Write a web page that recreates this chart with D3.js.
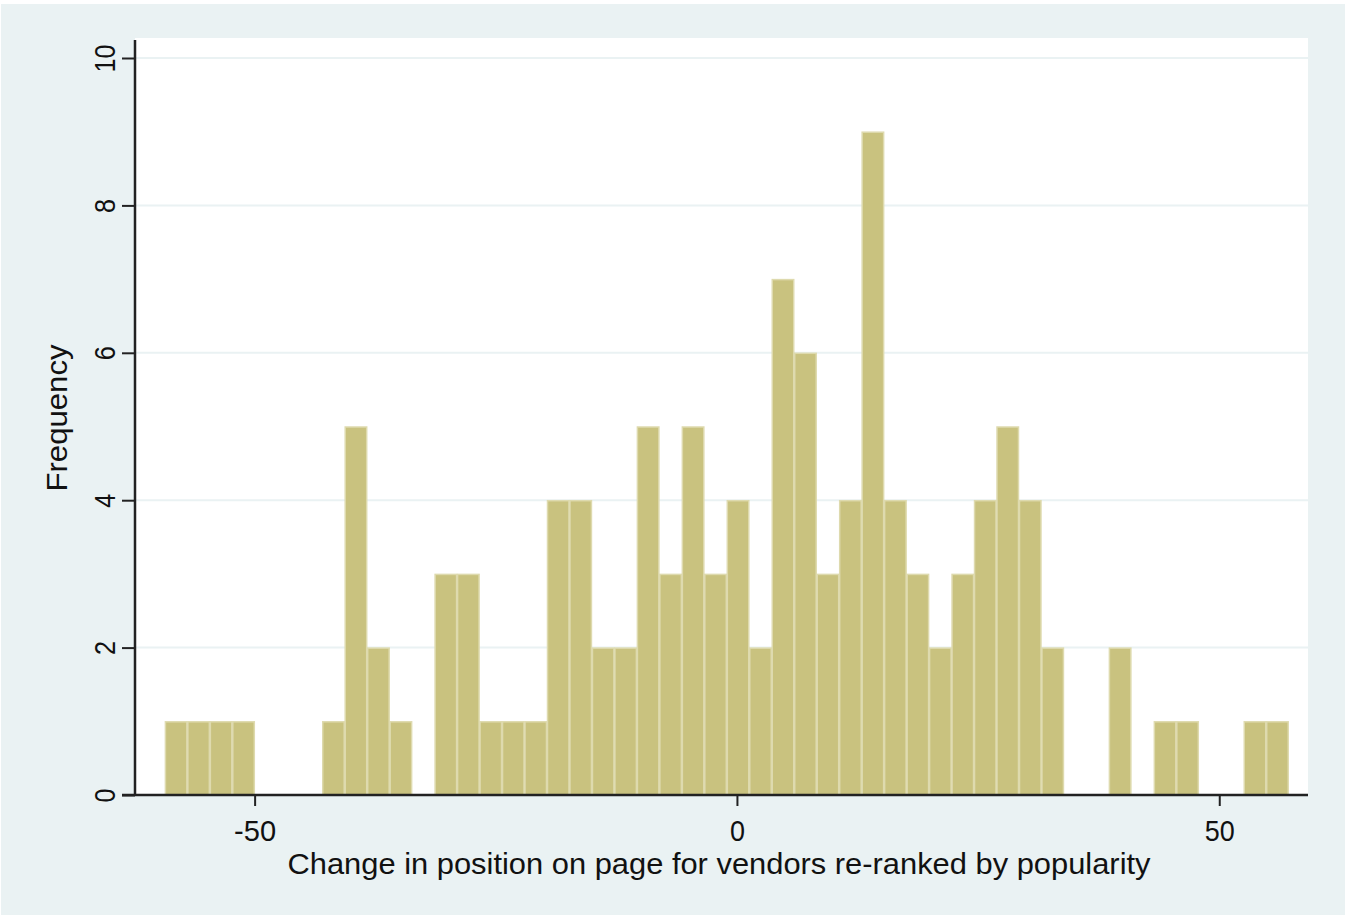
<!DOCTYPE html>
<html lang="en">
<head>
<meta charset="utf-8">
<title>Histogram - change in position</title>
<style>
  body { margin: 0; background: #fff; }
  .tick text, .lbl { font-family: "Liberation Sans", Arial, sans-serif; fill: #111; }
</style>
</head>
<body>
<div id="chart"></div>
<script src="https://d3js.org/d3.v7.min.js"></script>
<script>
  // histogram data: 50 bins starting at binStart, each binWidth wide
  var binStart = -59.3;
  var binWidth = 2.33;
  var counts = [1, 1, 1, 1, 0, 0, 0, 1, 5, 2,
                1, 0, 3, 3, 1, 1, 1, 4, 4, 2,
                2, 5, 3, 5, 3, 4, 2, 7, 6, 3,
                4, 9, 4, 3, 2, 3, 4, 5, 4, 2,
                0, 0, 2, 0, 1, 1, 0, 0, 1, 1];
  var xTicks = [-50, 0, 50];
  var yTicks = [0, 2, 4, 6, 8, 10];
  var xTitle = "Change in position on page for vendors re-ranked by popularity";
  var yTitle = "Frequency";

  var W = 1345, H = 917;
  var svg = d3.select("#chart").append("svg")
    .attr("width", W).attr("height", H);

  // outer background (stata style)
  svg.append("rect").attr("x", 1).attr("y", 4).attr("width", W - 1).attr("height", H - 6)
    .attr("fill", "#eaf2f3");

  var x = d3.scaleLinear().domain([-62.4, 59.2]).range([135, 1308]);
  var y = d3.scaleLinear().domain([0, 10]).range([795, 58]);

  // plot region
  svg.append("rect").attr("x", 135).attr("y", 38).attr("width", 1308 - 135).attr("height", 795 - 38)
    .attr("fill", "#fff");

  // grid lines
  svg.append("g").selectAll("line")
    .data(yTicks.filter(function(d) { return d > 0; }))
    .enter().append("line")
    .attr("x1", 135).attr("x2", 1308)
    .attr("y1", function(d) { return y(d); })
    .attr("y2", function(d) { return y(d); })
    .attr("stroke", "#eaf2f3").attr("stroke-width", 2);

  var bins = counts.map(function(c, i) {
    return { x0: binStart + i * binWidth, x1: binStart + (i + 1) * binWidth, n: c };
  });

  svg.append("g").selectAll("rect")
    .data(bins.filter(function(d) { return d.n > 0; }))
    .enter().append("rect")
    .attr("x", function(d) { return x(d.x0) + 0.5; })
    .attr("y", function(d) { return y(d.n) + 0.5; })
    .attr("width", function(d) { return x(d.x1) - x(d.x0) - 1; })
    .attr("height", function(d) { return y(0) - y(d.n) - 0.5; })
    .attr("fill", "#c9c27f")
    .attr("stroke", "#dedaae")
    .attr("stroke-width", 1.5);

  // y axis
  var yAxis = svg.append("g")
    .attr("transform", "translate(135,0)")
    .call(d3.axisLeft(y).tickValues(yTicks).tickSize(13).tickPadding(14).tickFormat(function(d) { return String(d); }));
  yAxis.select(".domain").attr("d", "M0,40V795").attr("stroke", "#222").attr("stroke-width", 2.5);
  yAxis.selectAll(".tick line").attr("stroke", "#222").attr("stroke-width", 2);
  yAxis.selectAll(".tick text")
    .attr("font-size", 30)
    .attr("x", 0).attr("dy", null)
    .attr("text-anchor", "middle")
    .attr("transform", "translate(-31,0) rotate(-90) translate(0,11)")
    .attr("textLength", function(d) { return d >= 10 ? 28 : 14; })
    .attr("lengthAdjust", "spacingAndGlyphs");

  // x axis
  var xAxis = svg.append("g")
    .attr("transform", "translate(0,795)")
    .call(d3.axisBottom(x).tickValues(xTicks).tickSize(11).tickPadding(0).tickFormat(function(d) { return String(d); }));
  xAxis.select(".domain").attr("d", "M122,0H1308").attr("stroke", "#222").attr("stroke-width", 2.5);
  xAxis.selectAll(".tick line").attr("stroke", "#222").attr("stroke-width", 2);
  xAxis.selectAll(".tick text")
    .attr("font-size", 30)
    .attr("y", 46).attr("dy", null)
    .attr("textLength", function(d) { return d < 0 ? 42 : (d === 0 ? 15 : 30); })
    .attr("lengthAdjust", "spacingAndGlyphs");

  // axis titles
  svg.append("text").attr("class", "lbl")
    .attr("x", 719).attr("y", 874)
    .attr("text-anchor", "middle")
    .attr("font-size", 30)
    .attr("textLength", 863).attr("lengthAdjust", "spacingAndGlyphs")
    .text(xTitle);

  svg.append("text").attr("class", "lbl")
    .attr("transform", "translate(67,418) rotate(-90)")
    .attr("text-anchor", "middle")
    .attr("font-size", 30)
    .attr("textLength", 147).attr("lengthAdjust", "spacingAndGlyphs")
    .text(yTitle);
</script>
</body>
</html>
